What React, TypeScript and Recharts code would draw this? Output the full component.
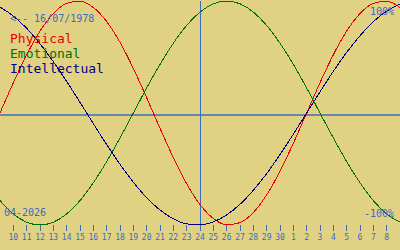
import React from 'react';
import { LineChart, Line, XAxis, YAxis, ReferenceLine } from 'recharts';

// day labels along the bottom, one per slot (first/last sit on the chart edges)
const dayLabels = [
  '9', '10', '11', '12', '13', '14', '15', '16', '17', '18', '19', '20', '21', '22', '23', '24',
  '25', '26', '27', '28', '29', '30', '1', '2', '3', '4', '5', '6', '7', '8', '9'
];

// cycle values, -1 .. 1
const physical = [
  0, 0.27, 0.52, 0.731, 0.888, 0.979, 0.998, 0.942, 0.817, 0.631, 0.398, 0.136, -0.136, -0.398, -0.631, -0.817,
  -0.942, -0.998, -0.979, -0.888, -0.731, -0.52, -0.27, 0, 0.27, 0.52, 0.731, 0.888, 0.979, 0.998, 0.942
];
const emotional = [
  -0.782, -0.901, -0.975, -1, -0.975, -0.901, -0.782, -0.623, -0.434, -0.223, 0, 0.223, 0.434, 0.623, 0.782, 0.901,
  0.975, 1, 0.975, 0.901, 0.782, 0.623, 0.434, 0.223, 0, -0.223, -0.434, -0.623, -0.782, -0.901, -0.975
];
const intellectual = [
  0.945, 0.866, 0.756, 0.618, 0.458, 0.282, 0.095, -0.095, -0.282, -0.458, -0.618, -0.756, -0.866, -0.945, -0.99, -0.999,
  -0.972, -0.91, -0.815, -0.69, -0.541, -0.372, -0.189, 0, 0.189, 0.372, 0.541, 0.69, 0.815, 0.91, 0.972
];

const todayIndex = 15;

const data = dayLabels.map((d, i) => ({
  x: i,
  Physical: physical[i],
  Emotional: emotional[i],
  Intellectual: intellectual[i]
}));

const tickIdx = dayLabels.map((_, i) => i).slice(1, dayLabels.length - 1);

const BG = '#e1d283';
const BLUE = '#3a6cc0';
const MONO = '"DejaVu Sans Mono", monospace';

const App: React.FC = () => {
  return (
    <div style={{ position: 'absolute', left: 0, top: 0, width: 400, height: 250, background: BG }}>
      <LineChart width={400} height={250} data={data} margin={{ top: 1, right: 0, left: 0, bottom: 0 }}>
        <XAxis
          dataKey="x"
          type="number"
          domain={[0, 30]}
          ticks={tickIdx}
          interval={0}
          tickFormatter={(v: number) => dayLabels[v]}
          axisLine={false}
          tickLine={{ stroke: BLUE, shapeRendering: 'crispEdges' }}
          tickSize={6}
          tickMargin={3}
          height={25}
          tick={{ fontSize: 8, fill: BLUE, fontFamily: MONO }}
        />
        <YAxis hide domain={[-1, 1]} />
        <ReferenceLine y={-0.0178} stroke={BLUE} strokeWidth={1.5} />
        <ReferenceLine x={todayIndex} stroke={BLUE} strokeWidth={1} shapeRendering="crispEdges" />
        <Line type="monotone" dataKey="Physical" stroke="#e80000" strokeWidth={1} dot={false} shapeRendering="crispEdges" isAnimationActive={false} />
        <Line type="monotone" dataKey="Emotional" stroke="#007000" strokeWidth={1} dot={false} shapeRendering="crispEdges" isAnimationActive={false} />
        <Line type="monotone" dataKey="Intellectual" stroke="#000080" strokeWidth={1} dot={false} shapeRendering="crispEdges" isAnimationActive={false} />
      </LineChart>
      <svg width={400} height={250} style={{ position: 'absolute', left: 0, top: 0, pointerEvents: 'none' }}>
        <g fontFamily={MONO}>
          <text x={10} y={22} fontSize={10} fill={BLUE}>{'<-- 16/07/1978'}</text>
          <text x={10} y={43} fontSize={13} fill="#e80000">Physical</text>
          <text x={10} y={58} fontSize={13} fill="#007000">Emotional</text>
          <text x={10} y={73} fontSize={13} fill="#000080">Intellectual</text>
          <text x={394} y={15} fontSize={10} fill={BLUE} textAnchor="end">100%</text>
          <text x={394} y={217} fontSize={10} fill={BLUE} textAnchor="end">-100%</text>
          <text x={4} y={216} fontSize={10} fill={BLUE}>04-2026</text>
        </g>
      </svg>
    </div>
  );
};

export default App;
